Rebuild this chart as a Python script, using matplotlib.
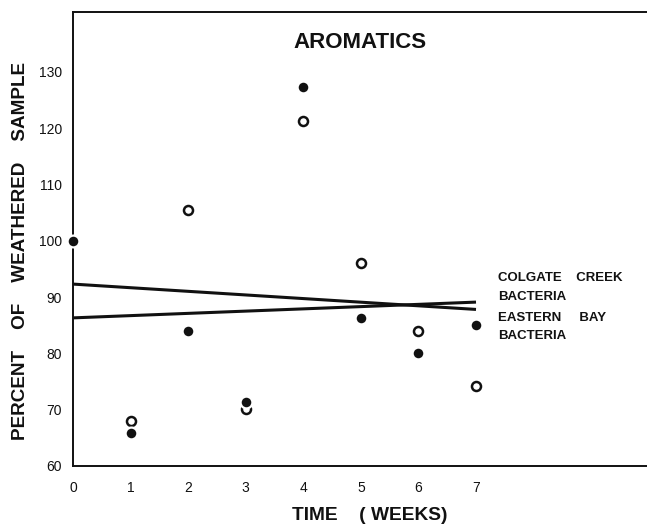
"""
Aromatics fraction remaining vs. time for two bacterial cultures.
Scatter of measured percent of weathered sample plus fitted trend lines.
"""

import matplotlib.pyplot as plt

# ---------------------------------------------------------------------------
# data
# ---------------------------------------------------------------------------
weeks_filled = [0, 1, 2, 3, 4, 5, 6, 7]
pct_filled = [100, 65.9, 84.0, 71.4, 127.3, 86.3, 80.1, 85.0]

weeks_open = [1, 2, 3, 4, 5, 6, 7]
pct_open = [68.0, 105.5, 70.1, 121.3, 96.1, 84.0, 74.2]

# fitted trend lines (endpoints at week 0 and week 7)
trend_weeks = [0, 7]
trend_colgate = [92.3, 87.8]
trend_eastern = [86.3, 89.1]

x_ticks = [0, 1, 2, 3, 4, 5, 6, 7]
x_ticklabels = ["0", "1", "2", "3", "4", "5", "6", "7"]
y_ticks = [60, 70, 80, 90, 100, 110, 120, 130]

INK = "#111111"
FONT = "Liberation Sans"

plt.rcParams["font.family"] = [FONT, "DejaVu Sans"]

fig = plt.figure(figsize=(6.47, 5.25), dpi=100)
ax = fig.add_axes([0.1128, 0.1124, 0.8872, 0.8646])

ax.plot(trend_weeks, trend_colgate, color=INK, linewidth=2.2,
        solid_capstyle="butt", zorder=2)
ax.plot(trend_weeks, trend_eastern, color=INK, linewidth=2.2,
        solid_capstyle="butt", zorder=2)

ax.plot(weeks_open, pct_open, linestyle="none", marker="o",
        markersize=6.5, markerfacecolor="white", markeredgecolor=INK,
        markeredgewidth=1.8, zorder=3)
ax.plot(weeks_filled, pct_filled, linestyle="none", marker="o",
        markersize=8.5, markerfacecolor=INK, markeredgecolor="white",
        markeredgewidth=1.6, clip_on=False, zorder=4)

ax.set_xlim(0, 9.97)
ax.set_ylim(60, 140.6)

ax.set_xticks(x_ticks)
ax.set_xticklabels(x_ticklabels)
ax.set_yticks(y_ticks)
ax.tick_params(axis="both", length=0, labelsize=10, colors=INK)
ax.tick_params(axis="x", pad=10.5)
ax.tick_params(axis="y", pad=8)

for side in ("left", "top", "bottom"):
    ax.spines[side].set_linewidth(1.4)
    ax.spines[side].set_color(INK)
ax.spines["right"].set_visible(False)

ax.text(4.99, 135.2, "AROMATICS", ha="center", va="center",
        fontsize=16, fontweight="bold", color=INK)

fig.text(0.571, 0.019, "TIME    ( WEEKS)", ha="center", va="center",
         fontsize=13.8, fontweight="bold", color=INK)
fig.text(0.031, 0.522, "PERCENT    OF    WEATHERED    SAMPLE",
         rotation=90, ha="center", va="center",
         fontsize=13.6, fontweight="bold", color=INK)

# curve labels to the right of the plotted range
label_kw = dict(fontsize=9.5, fontweight="bold", color=INK,
                ha="left", va="center")
ax.text(7.38, 93.4, "COLGATE    CREEK", **label_kw)
ax.text(7.38, 90.0, "BACTERIA", **label_kw)
ax.text(7.38, 86.3, "EASTERN     BAY", **label_kw)
ax.text(7.38, 83.1, "BACTERIA", **label_kw)

fig.savefig("out.png", dpi=100, facecolor="white")
plt.close(fig)
